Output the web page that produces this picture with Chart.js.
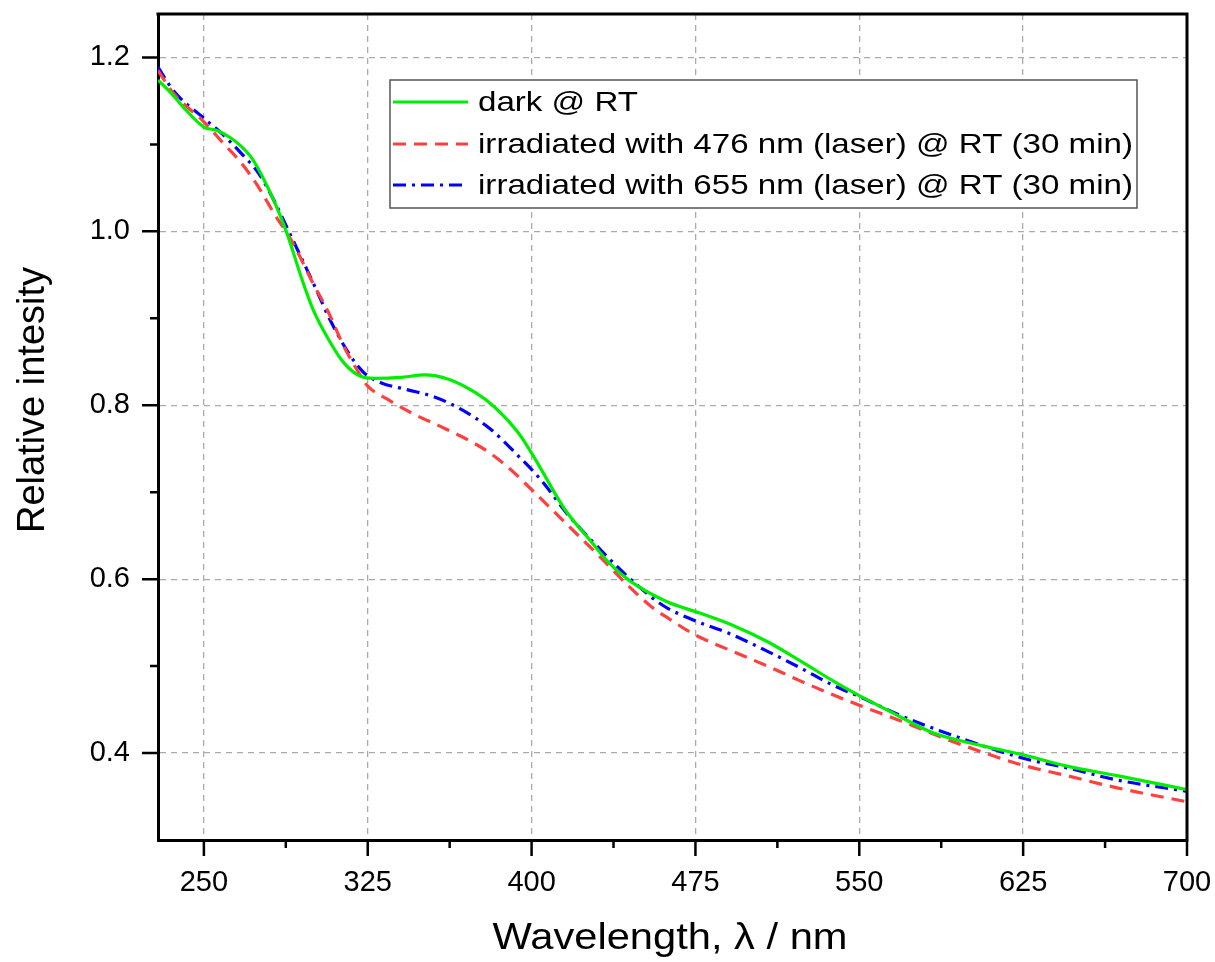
<!DOCTYPE html>
<html>
<head>
<meta charset="utf-8">
<script src="https://cdn.jsdelivr.net/npm/chart.js@4.4.1/dist/chart.umd.min.js"></script>
<style>
  html, body { margin: 0; padding: 0; background: #fff; }
  #wrap { width: 1215px; height: 962px; }
</style>
</head>
<body>
<div id="wrap"><canvas id="chart" width="1215" height="962"></canvas></div>
<script>
// wavelength / intensity
const darkX = [229, 235, 242, 250, 256, 262, 267, 272, 277, 283, 288, 295, 300, 307, 314, 322, 328, 340, 351, 362, 374, 383, 394, 400, 404, 415, 426, 435, 445, 462, 477, 492, 508, 523, 538, 550, 564, 584, 607, 625, 645, 668, 700];
const darkY = [1.174, 1.159, 1.139, 1.120, 1.116, 1.108, 1.098, 1.084, 1.062, 1.030, 0.998, 0.944, 0.910, 0.876, 0.849, 0.833, 0.831, 0.832, 0.835, 0.830, 0.815, 0.798, 0.768, 0.745, 0.728, 0.681, 0.647, 0.620, 0.598, 0.574, 0.561, 0.547, 0.528, 0.506, 0.483, 0.466, 0.448, 0.423, 0.408, 0.398, 0.385, 0.374, 0.358];

const blueLaserX = [229, 236, 250, 259, 267, 275, 282, 290, 300, 307, 314, 322, 325, 334, 346, 358, 371, 381, 390, 400, 417, 432, 444, 456, 462, 474, 492, 508, 523, 538, 550, 569, 592, 625, 645, 668, 700];
const blueLaserY = [1.185, 1.159, 1.126, 1.101, 1.079, 1.051, 1.021, 0.990, 0.940, 0.907, 0.868, 0.833, 0.822, 0.807, 0.790, 0.776, 0.760, 0.745, 0.727, 0.703, 0.661, 0.624, 0.593, 0.566, 0.556, 0.537, 0.517, 0.500, 0.483, 0.467, 0.455, 0.437, 0.414, 0.386, 0.374, 0.360, 0.344];

const redLaserX = [229, 236, 250, 258, 267, 275, 282, 290, 302, 307, 316, 323, 331, 343, 355, 368, 381, 393, 404, 417, 428, 444, 460, 474, 490, 508, 523, 538, 550, 569, 592, 625, 645, 668, 700];
const redLaserY = [1.189, 1.162, 1.130, 1.113, 1.090, 1.067, 1.036, 0.994, 0.930, 0.902, 0.861, 0.838, 0.826, 0.818, 0.810, 0.795, 0.773, 0.744, 0.715, 0.673, 0.643, 0.603, 0.570, 0.553, 0.538, 0.517, 0.498, 0.478, 0.465, 0.443, 0.421, 0.394, 0.383, 0.369, 0.356];

const seriesLabels = ['dark @ RT', 'irradiated with 476 nm (laser) @ RT (30 min)', 'irradiated with 655 nm (laser) @ RT (30 min)'];

const xTicks = [250, 325, 400, 475, 550, 625, 700];
const xMinor = [287.5, 362.5, 437.5, 512.5, 587.5, 662.5];
const yTicks = [0.4, 0.6, 0.8, 1.0, 1.2];
const yMinor = [0.5, 0.7, 0.9, 1.1];

const xTitle = 'Wavelength, \u03bb / nm';
const yTitle = 'Relative intesity';

const FONT = '"Liberation Sans", Arial, sans-serif';

function pts(xs, ys) {
    return xs.map((v, i) => ({ x: v, y: ys[i] }));
}

// text squeezed/stretched to a given width (the original fonts run wide)
function fitText(ctx, text, x, y, w, align) {
    const m = ctx.measureText(text).width;
    const s = w / m;
    ctx.save();
    ctx.translate(x, y);
    ctx.scale(s, 1);
    ctx.textAlign = align;
    ctx.fillText(text, 0, 0);
    ctx.restore();
}

// keep chart.js from reserving room for edge labels
function noEdgePad(s) {
    s.paddingLeft = 0;
    s.paddingRight = 0;
    s.paddingTop = 0;
    s.paddingBottom = 0;
}

const decor = {
    id: 'decor',
    afterDraw(chart) {
        const { ctx, chartArea: a, scales: { x, y } } = chart;
        ctx.save();

        // top and right frame
        ctx.strokeStyle = '#000';
        ctx.lineWidth = 3;
        ctx.beginPath();
        ctx.moveTo(a.left - 1.5, a.top);
        ctx.lineTo(a.right, a.top);
        ctx.lineTo(a.right, a.bottom + 1.5);
        ctx.stroke();

        // outward ticks
        ctx.lineWidth = 2.5;
        ctx.beginPath();
        xTicks.forEach(v => { const p = x.getPixelForValue(v); ctx.moveTo(p, a.bottom); ctx.lineTo(p, a.bottom + 16); });
        xMinor.forEach(v => { const p = x.getPixelForValue(v); ctx.moveTo(p, a.bottom); ctx.lineTo(p, a.bottom + 8); });
        yTicks.forEach(v => { const p = y.getPixelForValue(v); ctx.moveTo(a.left, p); ctx.lineTo(a.left - 16, p); });
        yMinor.forEach(v => { const p = y.getPixelForValue(v); ctx.moveTo(a.left, p); ctx.lineTo(a.left - 8, p); });
        ctx.stroke();

        // axis titles
        ctx.fillStyle = '#000';
        ctx.textBaseline = 'alphabetic';
        ctx.font = '37px ' + FONT;
        fitText(ctx, xTitle, 670, 949, 355, 'center');
        ctx.save();
        ctx.translate(44, 400);
        ctx.rotate(-Math.PI / 2);
        ctx.font = '38px ' + FONT;
        ctx.textAlign = 'center';
        ctx.fillText(yTitle, 0, 0);
        ctx.restore();

        // legend box
        const bx = 390, by = 80, bw = 747, bh = 128;
        ctx.fillStyle = '#fff';
        ctx.fillRect(bx, by, bw, bh);
        ctx.strokeStyle = '#555';
        ctx.lineWidth = 1.5;
        ctx.strokeRect(bx, by, bw, bh);
        const rows = [102, 144, 185];
        ctx.font = '28px ' + FONT;
        ctx.textBaseline = 'middle';
        chart.data.datasets.forEach((ds, i) => {
            ctx.strokeStyle = ds.borderColor;
            ctx.lineWidth = 3.2;
            ctx.setLineDash(ds.borderDash || []);
            ctx.beginPath();
            ctx.moveTo(393, rows[i]);
            ctx.lineTo(468, rows[i]);
            ctx.stroke();
            ctx.setLineDash([]);
            ctx.fillStyle = '#000';
            const w = i === 0 ? 655 * ctx.measureText(ds.label).width / ctx.measureText(seriesLabels[1]).width : 655;
            fitText(ctx, ds.label, 478, rows[i] + 1, w, 'left');
        });
        ctx.restore();
    }
};

const ctx = document.getElementById('chart').getContext('2d');

const chart = new Chart(ctx, {
    type: 'line',
    data: {
        datasets: [{
            label: seriesLabels[0],
            data: pts(darkX, darkY),
            borderColor: '#00ee00',
            borderWidth: 3.2
        }, {
            label: seriesLabels[1],
            data: pts(blueLaserX, blueLaserY),
            borderColor: '#ff4040',
            borderWidth: 3.2,
            borderDash: [13, 8]
        }, {
            label: seriesLabels[2],
            data: pts(redLaserX, redLaserY),
            borderColor: '#0000ff',
            borderWidth: 3.2,
            borderDash: [13, 6, 3, 6]
        }]
    },
    options: {
        responsive: false,
        animation: false,
        elements: {
            point: { radius: 0 },
            line: { cubicInterpolationMode: 'monotone', fill: false }
        },
        layout: { padding: { left: 0, top: 14, right: 28, bottom: 0 } },
        plugins: {
            legend: { display: false },
            tooltip: { enabled: false }
        },
        scales: {
            x: {
                type: 'linear',
                min: 229,
                max: 700,
                afterBuildTicks: s => { s.ticks = xTicks.map(v => ({ value: v })); },
                afterFit: s => { s.height = 122; noEdgePad(s); },
                grid: { color: '#aaaaaa', lineWidth: 1.3, drawTicks: false },
                border: { display: true, color: '#000', width: 3, dash: [6, 5] },
                ticks: {
                    padding: 26,
                    color: '#000',
                    font: { family: FONT, size: 29 },
                    maxRotation: 0
                }
            },
            y: {
                min: 0.3,
                max: 1.25,
                afterBuildTicks: s => { s.ticks = yTicks.map(v => ({ value: v })); },
                afterFit: s => { s.width = 158; noEdgePad(s); },
                grid: { color: '#aaaaaa', lineWidth: 1.3, drawTicks: false },
                border: { display: true, color: '#000', width: 3, dash: [6, 5] },
                ticks: {
                    padding: 28,
                    color: '#000',
                    font: { family: FONT, size: 29 },
                    callback: v => v.toFixed(1)
                }
            }
        }
    },
    plugins: [decor]
});
</script>
</body>
</html>
